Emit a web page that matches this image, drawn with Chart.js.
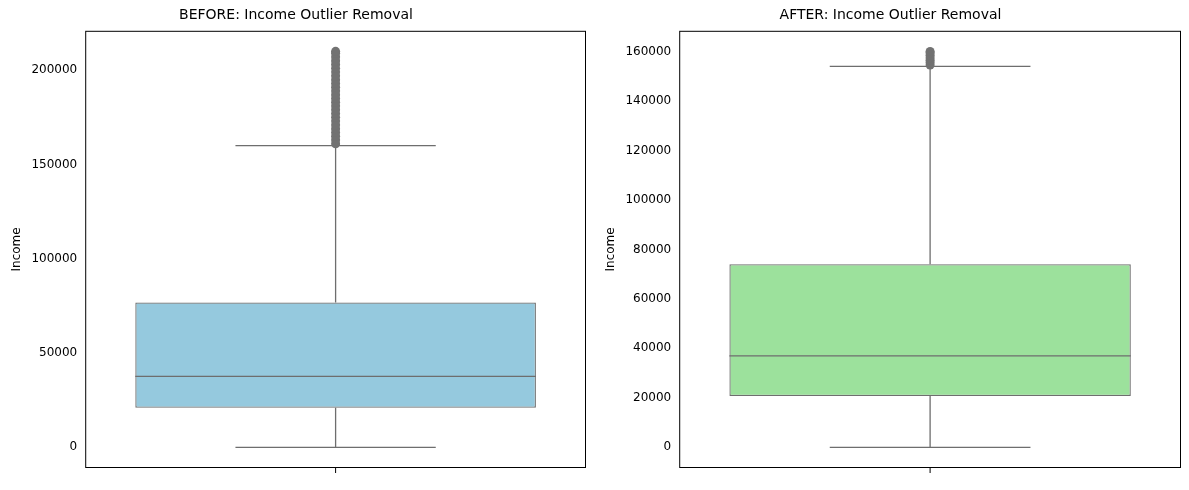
<!DOCTYPE html>
<html><head><meta charset="utf-8">
<script src="https://cdn.jsdelivr.net/npm/chart.js@4"></script>
<style>
body{margin:0;background:#fff;font-family:"DejaVu Sans",sans-serif}
.c{position:absolute;top:0;height:490px}
</style></head><body>
<div class="c" style="left:0;width:594px"><canvas id="left"></canvas></div>
<div class="c" style="left:594px;width:595px"><canvas id="right"></canvas></div>
<script>
// box stats: [min whisker, q1, median, q3, max whisker]
const beforeStats = [0, 21000, 37600, 76800, 160000];
const afterStats = [0, 20700, 37000, 74000, 154000];
const beforeOutliers = [161000,163000,165000,167000,169000,171000,173000,175000,177000,179000,181000,183000,185000,187000,189000,191000,193000,195000,197000,199000,201000,203000,205000,207000,209000,210000];
const afterOutliers = [154500,155500,156500,157500,158500,159500,160000];
const beforeTicks = [0, 50000, 100000, 150000, 200000];
const afterTicks = [0, 20000, 40000, 60000, 80000, 100000, 120000, 140000, 160000];

Chart.defaults.font.family = '"DejaVu Sans", sans-serif';
const lineCol = '#6e6e6e';

const boxPlugin = {
  id: 'boxextras',
  afterDatasetsDraw(chart) {
    const ctx = chart.ctx, x = chart.scales.x, y = chart.scales.y;
    const st = chart.options.plugins.boxextras.stats;
    const outl = chart.options.plugins.boxextras.outliers;
    const cx = x.getPixelForValue(0);
    const w = (x.right - x.left);
    const capHalf = w * 0.2, boxHalf = w * 0.4;
    ctx.save();
    ctx.strokeStyle = lineCol; ctx.lineWidth = 1.3;
    ctx.beginPath();
    ctx.moveTo(cx, y.getPixelForValue(st[0])); ctx.lineTo(cx, y.getPixelForValue(st[1]));
    ctx.moveTo(cx, y.getPixelForValue(st[3])); ctx.lineTo(cx, y.getPixelForValue(st[4]));
    ctx.moveTo(cx - capHalf, y.getPixelForValue(st[0])); ctx.lineTo(cx + capHalf, y.getPixelForValue(st[0]));
    ctx.moveTo(cx - capHalf, y.getPixelForValue(st[4])); ctx.lineTo(cx + capHalf, y.getPixelForValue(st[4]));
    ctx.moveTo(cx - boxHalf, y.getPixelForValue(st[2])); ctx.lineTo(cx + boxHalf, y.getPixelForValue(st[2]));
    ctx.stroke();
    ctx.fillStyle = '#727272';
    outl.forEach(v => {
      ctx.beginPath(); ctx.arc(cx, y.getPixelForValue(v), 4.5, 0, Math.PI * 2); ctx.fill();
    });
    const a = chart.chartArea;
    ctx.strokeStyle = '#000'; ctx.lineWidth = 1;
    ctx.strokeRect(a.left + 0.5, a.top + 0.5, a.right - a.left - 1, a.bottom - a.top - 1);
    // x tick mark under the box
    ctx.beginPath(); ctx.moveTo(cx, a.bottom); ctx.lineTo(cx, a.bottom + 5); ctx.stroke();
    ctx.restore();
  }
};

function makeChart(id, title, stats, outliers, ticks, color, ymin, ymax, leftPad) {
  new Chart(document.getElementById(id), {
    type: 'bar',
    data: {
      labels: [''],
      datasets: [{
        data: [[stats[1], stats[3]]],
        backgroundColor: color,
        borderColor: lineCol,
        borderWidth: 1.3,
        borderSkipped: false,
        barPercentage: 0.8,
        categoryPercentage: 1
      }]
    },
    options: {
      responsive: true, maintainAspectRatio: false, animation: false,
      layout: { padding: { left: leftPad, right: 8, top: 0, bottom: 14 } },
      plugins: {
        legend: { display: false }, tooltip: { enabled: false },
        title: { display: true, text: title, color: '#000', font: { size: 14, weight: 'normal' }, padding: { top: 7, bottom: 7 } },
        boxextras: { stats: stats, outliers: outliers }
      },
      scales: {
        x: {
          grid: { display: false },
          border: { display: false },
          ticks: { display: false }
        },
        y: {
          min: ymin, max: ymax,
          afterBuildTicks: s => { s.ticks = ticks.map(v => ({ value: v })); },
          grid: { display: false, drawTicks: true, tickLength: 5 },
          border: { display: false },
          ticks: { color: '#000', font: { size: 12 }, callback: v => String(v) },
          title: { display: true, text: 'Income', color: '#000', font: { size: 12 } }
        }
      }
    },
    plugins: [boxPlugin]
  });
}

makeChart('left', 'BEFORE: Income Outlier Removal', beforeStats, beforeOutliers, beforeTicks, '#95c9de', -10966, 220900, 6);
makeChart('right', 'AFTER: Income Outlier Removal', afterStats, afterOutliers, afterTicks, '#9ce19c', -8358, 168360, 6);
</script>
</body></html>
